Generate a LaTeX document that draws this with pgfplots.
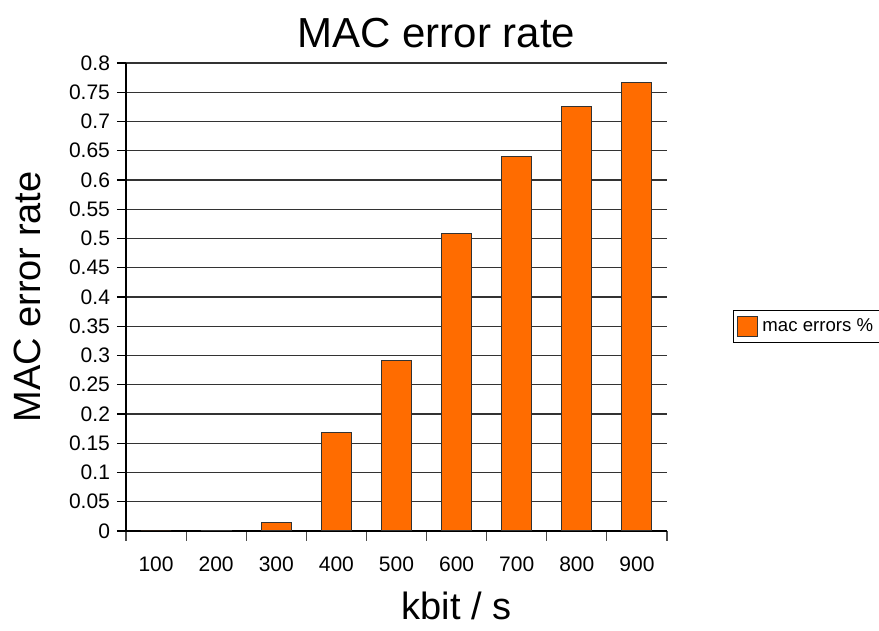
\documentclass[border=0pt]{standalone}
\usepackage{pgfplots}
\pgfplotsset{compat=1.18}
\usepackage{fontspec}
\setmainfont{Liberation Sans}
\definecolor{barorange}{RGB}{255,108,0}
\begin{document}
\begin{tikzpicture}
\useasboundingbox (-63pt,-50pt) rectangle (376.5pt,265.5pt);
\begin{axis}[
  at={(0,0)}, anchor=south west,
  scale only axis, width=270.5pt, height=234pt,
  xmin=0.5, xmax=9.5, ymin=0, ymax=0.8,
  axis x line*=bottom, axis y line*=left,
  axis line style={black, line width=0.6pt, -},
  ytick={0,0.05,...,0.8},
  yticklabels={0,0.05,0.1,0.15,0.2,0.25,0.3,0.35,0.4,0.45,0.5,0.55,0.6,0.65,0.7,0.75,0.8},
  xtick={1,...,9},
  xticklabels={100,200,300,400,500,600,700,800,900},
  minor xtick={0.5,1.5,...,9.5},
  tick align=outside,
  major tick length=4.5pt,
  minor tick length=5pt,
  x tick style={draw=none},
  minor x tick style={draw=black!70, line width=0.6pt},
  y tick style={black, line width=0.6pt},
  ymajorgrids,
  grid style={black!80, line width=0.6pt},
  tick label style={font=\fontsize{10.5}{12}\selectfont},
  /pgf/number format/assume math mode=true,
  xticklabel style={yshift=-5pt},
  title={MAC error rate},
  title style={font=\fontsize{21}{25}\selectfont, yshift=-2pt, xshift=20pt},
  xlabel={kbit / s},
  ylabel={MAC error rate},
  label style={font=\fontsize{19}{22}\selectfont},
  xlabel style={yshift=-3pt, xshift=30pt},
  ylabel style={yshift=7pt},
  legend style={at={(1.122,0.436)}, anchor=west, draw=black, line width=0.5pt,
    font=\fontsize{9.3}{11}\selectfont, inner sep=2pt},
  legend image code/.code={\draw[#1, draw=black!80] (0pt,-5pt) rectangle (10pt,5pt);},
]
\addplot[ybar, bar width=15pt, fill=barorange, draw=black!80, line width=0.5pt]
  coordinates {(1,0) (2,0.001) (3,0.015) (4,0.169) (5,0.292) (6,0.509) (7,0.641) (8,0.726) (9,0.766)};
\addlegendentry{mac errors \%}
\end{axis}
\end{tikzpicture}
\end{document}
